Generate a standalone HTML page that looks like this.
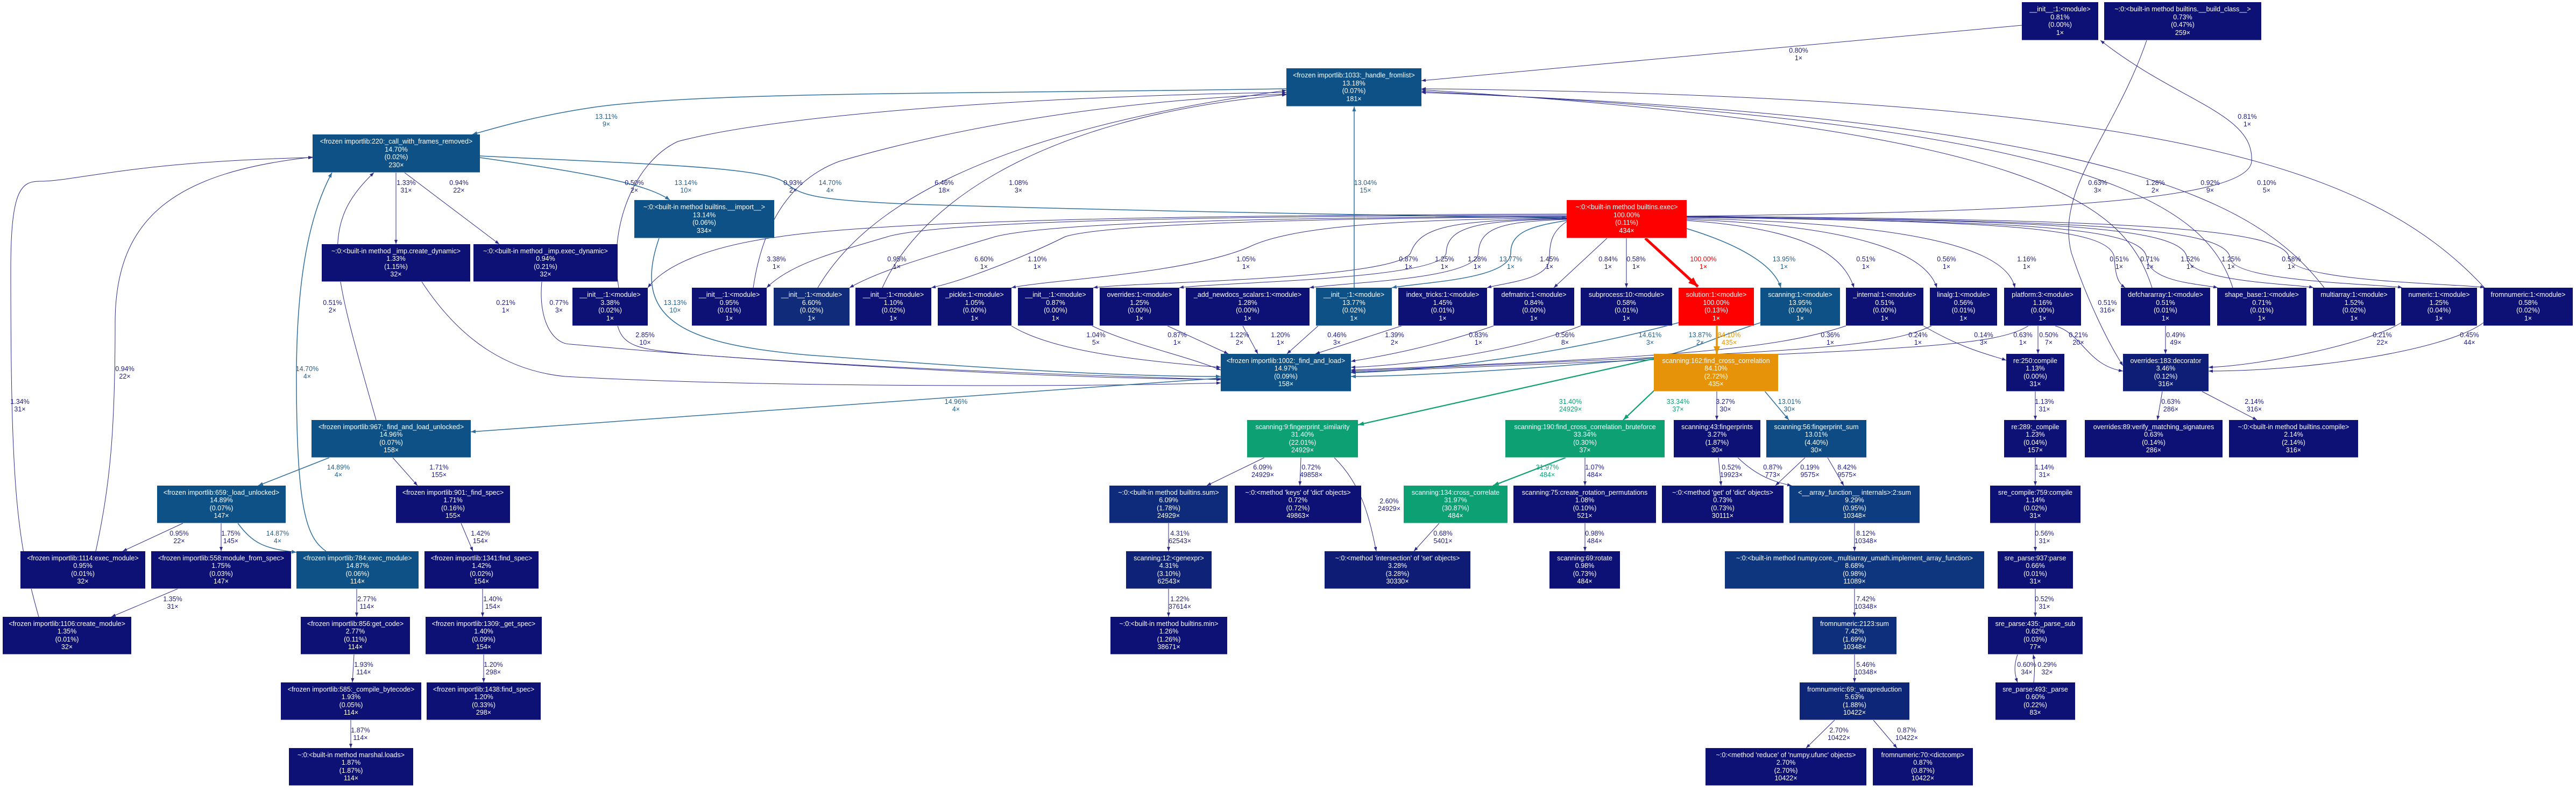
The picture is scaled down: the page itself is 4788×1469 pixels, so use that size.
<!DOCTYPE html>
<html><head><meta charset="utf-8"><style>
html,body{margin:0;padding:0;background:#fff;}
#c{position:relative;width:4788px;height:1469px;overflow:hidden;background:#fff;font-family:"Liberation Sans",sans-serif;}
.n{position:absolute;display:flex;flex-direction:column;justify-content:center;align-items:center;color:#fff;font-size:12.5px;line-height:14.5px;white-space:nowrap;box-sizing:border-box;height:71px;background:#0d1074;border-bottom:1px solid #8a8cc0;}
.b{background:#0e5186;border-bottom-color:#86a8c2;}
.r{background:#ff0000;border-bottom-color:#ff9090;}
.g{background:#0ca072;border-bottom-color:#86d0b8;}
.o{background:#e6930a;border-bottom-color:#f2c984;}
svg{position:absolute;left:0;top:0;}
svg text{font-family:"Liberation Sans",sans-serif;font-size:12.5px;text-anchor:middle;}
.en{fill:none;stroke:#2a2a8c;stroke-width:1;}
.eb{fill:none;stroke:#2f6e9c;stroke-width:1.5;}
.eg{fill:none;stroke:#0ca072;stroke-width:2.2;}
.ln{fill:#1c1c84;} .lb{fill:#235f8d;} .lg{fill:#0ca072;} .lo{fill:#e6930a;} .lr{fill:#ff0000;}
</style></head><body><div id="c">
<svg width="4788" height="1469" viewBox="0 0 4788 1469">
<defs>
<marker id="mn" markerWidth="8" markerHeight="6" refX="8" refY="3" orient="auto" markerUnits="userSpaceOnUse"><path d="M0,0L8,3L0,6z" fill="#2a2a8c"/></marker>
<marker id="mb" markerWidth="9" markerHeight="7" refX="9" refY="3.5" orient="auto" markerUnits="userSpaceOnUse"><path d="M0,0L9,3.5L0,7z" fill="#2f6e9c"/></marker>
<marker id="mg" markerWidth="11" markerHeight="8" refX="11" refY="4" orient="auto" markerUnits="userSpaceOnUse"><path d="M0,0L11,4L0,8z" fill="#0ca072"/></marker>
<marker id="mo" markerWidth="14" markerHeight="12" refX="14" refY="6" orient="auto" markerUnits="userSpaceOnUse"><path d="M0,0L14,6L0,12z" fill="#e6930a"/></marker>
<marker id="mr" markerWidth="18" markerHeight="14" refX="18" refY="7" orient="auto" markerUnits="userSpaceOnUse"><path d="M0,0L18,7L0,14z" fill="#ff0000"/></marker>
</defs>
<g>
<path class="en" marker-end="url(#mn)" d="M3758,47 L2642,150"/>
<path class="en" marker-end="url(#mn)" d="M3135,402 C3700,395 4180,380 4185,300 C4190,210 4050,190 3904,75"/>
<path class="eb" marker-end="url(#mb)" d="M2391,165 C1800,175 1300,170 1100,200 C1000,215 930,235 878,250"/>
<path class="eb" marker-end="url(#mb)" d="M892,290 C1200,305 1420,310 1460,340 C1490,365 1520,372 1700,380 C2200,395 2700,402 2912,405"/>
<path class="eb" marker-end="url(#mb)" d="M892,293 C1080,320 1200,340 1245,372"/>
<path class="en" marker-end="url(#mn)" d="M736,321 L736,454"/>
<path class="en" marker-end="url(#mn)" d="M752,321 L928,454"/>
<path class="en" marker-end="url(#mn)" d="M72,1147 C30,1000 20,900 20,500 C20,350 40,337 75,337 C140,337 250,300 581,293"/>
<path class="en" marker-end="url(#mn)" d="M178,1025 C205,900 214,800 214,600 C214,400 330,320 581,292"/>
<path class="eb" marker-end="url(#mb)" d="M606,1025 C570,1000 551,950 551,700 C551,500 580,390 617,321"/>
<path class="en" marker-end="url(#mn)" d="M699,781 C620,500 590,420 695,321"/>
<path class="en" marker-end="url(#mn)" d="M784,524 C860,640 950,690 1050,700 C1400,720 2000,720 2269,712"/>
<path class="en" marker-end="url(#mn)" d="M1007,524 C1000,600 1030,640 1060,640 C1500,680 2000,705 2269,705"/>
<path class="eb" marker-end="url(#mb)" d="M1225,443 C1170,600 1280,640 1500,660 C1900,690 2100,700 2269,700"/>
<path class="en" marker-end="url(#mn)" d="M1148,606 C1160,650 1200,650 1300,660 C1700,690 2100,700 2269,706"/>
<path class="eb" marker-end="url(#mb)" d="M2269,703 L875,803"/>
<path class="eb" marker-end="url(#mb)" d="M612,851 L480,903"/>
<path class="en" marker-end="url(#mn)" d="M730,851 L776,903"/>
<path class="en" marker-end="url(#mn)" d="M340,973 L228,1025"/>
<path class="en" marker-end="url(#mn)" d="M411,973 L411,1025"/>
<path class="eb" marker-end="url(#mb)" d="M442,973 C470,1010 490,1020 551,1027"/>
<path class="en" marker-end="url(#mn)" d="M857,973 L879,1025"/>
<path class="en" marker-end="url(#mn)" d="M330,1095 L207,1147"/>
<path class="en" marker-end="url(#mn)" d="M663,1095 L663,1147"/>
<path class="en" marker-end="url(#mn)" d="M897,1095 L897,1147"/>
<path class="en" marker-end="url(#mn)" d="M658,1217 L655,1269"/>
<path class="en" marker-end="url(#mn)" d="M899,1217 L899,1269"/>
<path class="en" marker-end="url(#mn)" d="M652,1339 L652,1391"/>
<!-- exec fan-out left -->
<path class="en" marker-end="url(#mn)" d="M2912,398 C2200,400 1650,410 1450,440 C1300,460 1230,500 1204,535"/>
<path class="en" marker-end="url(#mn)" d="M2912,400 C2200,402 1750,412 1650,440 C1550,470 1470,490 1425,535"/>
<path class="en" marker-end="url(#mn)" d="M2912,402 C2300,405 1950,415 1850,440 C1750,470 1640,500 1579,535"/>
<path class="en" marker-end="url(#mn)" d="M2912,403 C2400,406 2050,418 1980,440 C1920,470 1800,520 1731,535"/>
<path class="en" marker-end="url(#mn)" d="M2912,405 C2600,408 2400,420 2320,460 C2200,510 1950,520 1880,535"/>
<path class="en" marker-end="url(#mn)" d="M2912,406 C2700,410 2640,420 2622,470 C2600,520 2100,525 2032,535"/>
<path class="en" marker-end="url(#mn)" d="M2912,407 C2750,410 2690,420 2688,470 C2685,520 2260,525 2192,535"/>
<path class="en" marker-end="url(#mn)" d="M2912,408 C2800,412 2750,420 2748,470 C2745,520 2500,525 2434,535"/>
<path class="eb" marker-end="url(#mb)" d="M2912,410 C2850,420 2808,430 2808,470 C2808,520 2640,525 2587,535"/>
<path class="en" marker-end="url(#mn)" d="M2912,412 C2885,430 2880,450 2880,480 C2880,520 2800,525 2764,535"/>
<path class="en" marker-end="url(#mn)" d="M2987,443 L2888,535"/>
<path class="en" marker-end="url(#mn)" d="M3023,443 L3023,535"/>
<path fill="none" stroke="#ff0000" stroke-width="5" marker-end="url(#mr)" d="M3058,443 L3156,533"/>
<path class="eb" marker-end="url(#mb)" d="M3135,425 C3250,460 3300,500 3310,535"/>
<path class="en" marker-end="url(#mn)" d="M3135,410 C3350,425 3425,470 3446,535"/>
<path class="en" marker-end="url(#mn)" d="M3135,408 C3450,420 3580,470 3600,535"/>
<path class="en" marker-end="url(#mn)" d="M3135,406 C3550,415 3730,460 3745,535"/>
<path class="en" marker-end="url(#mn)" d="M3135,404 C3700,412 3925,420 3930,480 C3932,520 3940,528 3950,535"/>
<path class="en" marker-end="url(#mn)" d="M3135,404 C3750,412 3985,420 3990,480 C3995,525 4090,528 4122,535"/>
<path class="en" marker-end="url(#mn)" d="M3135,403 C3800,410 4060,420 4065,480 C4070,525 4270,528 4300,535"/>
<path class="en" marker-end="url(#mn)" d="M3135,403 C3850,410 4140,420 4145,480 C4150,525 4430,528 4465,535"/>
<path class="en" marker-end="url(#mn)" d="M3135,402 C3900,408 4250,420 4255,480 C4260,525 4590,528 4618,535"/>
<!-- modules -> handle_fromlist -->
<path class="en" marker-end="url(#mn)" d="M1150,535 C1130,420 1180,300 1260,263 C1500,200 2100,175 2391,172"/>
<path class="en" marker-end="url(#mn)" d="M1400,535 C1420,400 1480,330 1560,300 C1800,230 2100,185 2391,175"/>
<path class="en" marker-end="url(#mn)" d="M1520,535 C1600,400 1800,250 2391,168"/>
<path class="en" marker-end="url(#mn)" d="M1640,535 C1700,400 1900,220 2391,176"/>
<path class="eb" marker-end="url(#mb)" d="M2517,535 L2517,198"/>
<path class="en" marker-end="url(#mn)" d="M4000,535 C3950,380 3800,240 2642,167"/>
<path class="en" marker-end="url(#mn)" d="M4150,535 C4100,380 3900,230 2642,170"/>
<path class="en" marker-end="url(#mn)" d="M4320,535 C4200,380 3950,220 2642,172"/>
<path class="en" marker-end="url(#mn)" d="M4618,535 C4400,300 4000,180 2642,165"/>
<!-- modules -> find_and_load -->
<path class="en" marker-end="url(#mn)" d="M1880,606 C1950,650 2100,670 2269,683"/>
<path class="en" marker-end="url(#mn)" d="M2030,606 C2100,640 2200,660 2269,688"/>
<path class="en" marker-end="url(#mn)" d="M2170,606 L2283,658"/>
<path class="en" marker-end="url(#mn)" d="M2310,606 L2338,658"/>
<path class="en" marker-end="url(#mn)" d="M2450,606 L2392,658"/>
<path class="en" marker-end="url(#mn)" d="M2605,606 L2445,658"/>
<path class="en" marker-end="url(#mn)" d="M2776,606 C2650,650 2550,665 2511,672"/>
<path class="en" marker-end="url(#mn)" d="M2938,606 C2800,660 2600,680 2511,683"/>
<path class="eb" marker-end="url(#mb)" d="M3120,600 C2900,660 2650,690 2511,693"/>
<path class="eb" marker-end="url(#mb)" d="M3272,600 C3150,640 3130,660 3050,668 C2800,690 2600,700 2511,700"/>
<path class="en" marker-end="url(#mn)" d="M3431,606 C3300,650 3100,665 2511,688"/>
<path class="en" marker-end="url(#mn)" d="M3590,606 C3500,650 3300,655 2511,690"/>
<path class="en" marker-end="url(#mn)" d="M3770,606 C3700,650 3500,650 2511,692"/>
<path class="en" marker-end="url(#mn)" d="M3575,606 C3650,650 3700,660 3729,670"/>
<path class="en" marker-end="url(#mn)" d="M3788,606 L3788,658"/>
<path class="en" marker-end="url(#mn)" d="M3820,606 C3870,620 3880,680 3946,690"/>
<path class="en" marker-end="url(#mn)" d="M4025,606 L4025,658"/>
<path class="en" marker-end="url(#mn)" d="M4463,600 C4400,640 4200,680 4105,683"/>
<path class="en" marker-end="url(#mn)" d="M4616,600 C4550,650 4300,690 4105,690"/>
<path class="en" marker-end="url(#mn)" d="M3990,75 C3930,250 3820,350 3850,470 C3880,560 3920,640 3946,680"/>
<path fill="none" stroke="#e6930a" stroke-width="3.5" marker-end="url(#mo)" d="M3191,606 L3191,658"/>
<path class="eg" marker-end="url(#mg)" d="M3074,667 L2524,790"/>
<path class="eg" marker-end="url(#mg)" d="M3120,683 L3017,781"/>
<path class="en" marker-end="url(#mn)" d="M3191,683 L3191,781"/>
<path class="eb" marker-end="url(#mb)" d="M3243,683 L3325,781"/>
<path class="en" marker-end="url(#mn)" d="M3783,728 L3783,781"/>
<path class="en" marker-end="url(#mn)" d="M4019,728 L4010,781"/>
<path class="en" marker-end="url(#mn)" d="M4093,728 L4195,781"/>
<path class="en" marker-end="url(#mn)" d="M2350,851 L2243,903"/>
<path class="en" marker-end="url(#mn)" d="M2418,851 L2416,903"/>
<path class="en" marker-end="url(#mn)" d="M2480,851 C2530,900 2545,960 2558,1025"/>
<path class="eg" marker-end="url(#mg)" d="M2910,851 L2775,903"/>
<path class="en" marker-end="url(#mn)" d="M2946,851 L2946,903"/>
<path class="en" marker-end="url(#mn)" d="M3194,851 L3199,903"/>
<path class="en" marker-end="url(#mn)" d="M3230,851 C3260,880 3290,895 3330,903"/>
<path class="en" marker-end="url(#mn)" d="M3355,851 L3300,903"/>
<path class="en" marker-end="url(#mn)" d="M3397,851 L3427,903"/>
<path class="en" marker-end="url(#mn)" d="M3783,851 L3783,903"/>
<path class="en" marker-end="url(#mn)" d="M2675,973 L2628,1025"/>
<path class="en" marker-end="url(#mn)" d="M2946,973 L2946,1025"/>
<path class="en" marker-end="url(#mn)" d="M2172,973 L2172,1025"/>
<path class="en" marker-end="url(#mn)" d="M3447,973 L3447,1025"/>
<path class="en" marker-end="url(#mn)" d="M3783,973 L3783,1025"/>
<path class="en" marker-end="url(#mn)" d="M2172,1095 L2172,1147"/>
<path class="en" marker-end="url(#mn)" d="M3447,1095 L3447,1147"/>
<path class="en" marker-end="url(#mn)" d="M3783,1095 L3783,1147"/>
<path class="en" marker-end="url(#mn)" d="M3447,1217 L3447,1269"/>
<path class="en" marker-end="url(#mn)" d="M3750,1217 C3742,1240 3745,1255 3750,1269"/>
<path class="en" marker-end="url(#mn)" d="M3780,1269 C3782,1250 3782,1230 3779,1217"/>
<path class="en" marker-end="url(#mn)" d="M3410,1339 L3357,1391"/>
<path class="en" marker-end="url(#mn)" d="M3482,1339 L3526,1391"/>
</g>
<g>
<text class="ln" x="3343" y="98">0.80%<tspan x="3343" dy="14">1×</tspan></text>
<text class="ln" x="4177" y="221">0.81%<tspan x="4177" dy="14">1×</tspan></text>
<text class="lb" x="1127" y="221">13.11%<tspan x="1127" dy="14">9×</tspan></text>
<text class="lb" x="1543" y="344">14.70%<tspan x="1543" dy="14">4×</tspan></text>
<text class="lb" x="1275" y="344">13.14%<tspan x="1275" dy="14">10×</tspan></text>
<text class="ln" x="755" y="344">1.33%<tspan x="755" dy="14">31×</tspan></text>
<text class="ln" x="853" y="344">0.94%<tspan x="853" dy="14">22×</tspan></text>
<text class="ln" x="37" y="751">1.34%<tspan x="37" dy="14">31×</tspan></text>
<text class="ln" x="232" y="690">0.94%<tspan x="232" dy="14">22×</tspan></text>
<text class="lb" x="571" y="690">14.70%<tspan x="571" dy="14">4×</tspan></text>
<text class="ln" x="618" y="567">0.51%<tspan x="618" dy="14">2×</tspan></text>
<text class="ln" x="940" y="567">0.21%<tspan x="940" dy="14">1×</tspan></text>
<text class="ln" x="1039" y="567">0.77%<tspan x="1039" dy="14">3×</tspan></text>
<text class="lb" x="1255" y="567">13.13%<tspan x="1255" dy="14">10×</tspan></text>
<text class="ln" x="1199" y="627">2.85%<tspan x="1199" dy="14">10×</tspan></text>
<text class="lb" x="1777" y="751">14.96%<tspan x="1777" dy="14">4×</tspan></text>
<text class="lb" x="629" y="873">14.89%<tspan x="629" dy="14">4×</tspan></text>
<text class="ln" x="816" y="873">1.71%<tspan x="816" dy="14">155×</tspan></text>
<text class="ln" x="333" y="996">0.95%<tspan x="333" dy="14">22×</tspan></text>
<text class="ln" x="429" y="996">1.75%<tspan x="429" dy="14">145×</tspan></text>
<text class="lb" x="516" y="996">14.87%<tspan x="516" dy="14">4×</tspan></text>
<text class="ln" x="893" y="996">1.42%<tspan x="893" dy="14">154×</tspan></text>
<text class="ln" x="321" y="1118">1.35%<tspan x="321" dy="14">31×</tspan></text>
<text class="ln" x="682" y="1118">2.77%<tspan x="682" dy="14">114×</tspan></text>
<text class="ln" x="916" y="1118">1.40%<tspan x="916" dy="14">154×</tspan></text>
<text class="ln" x="676" y="1240">1.93%<tspan x="676" dy="14">114×</tspan></text>
<text class="ln" x="917" y="1240">1.20%<tspan x="917" dy="14">298×</tspan></text>
<text class="ln" x="670" y="1362">1.87%<tspan x="670" dy="14">114×</tspan></text>
<text class="ln" x="1443" y="486">3.38%<tspan x="1443" dy="14">1×</tspan></text>
<text class="ln" x="1667" y="486">0.95%<tspan x="1667" dy="14">1×</tspan></text>
<text class="ln" x="1829" y="486">6.60%<tspan x="1829" dy="14">1×</tspan></text>
<text class="ln" x="1928" y="486">1.10%<tspan x="1928" dy="14">1×</tspan></text>
<text class="ln" x="2316" y="486">1.05%<tspan x="2316" dy="14">1×</tspan></text>
<text class="ln" x="2618" y="486">0.87%<tspan x="2618" dy="14">1×</tspan></text>
<text class="ln" x="2685" y="486">1.25%<tspan x="2685" dy="14">1×</tspan></text>
<text class="ln" x="2746" y="486">1.28%<tspan x="2746" dy="14">1×</tspan></text>
<text class="lb" x="2808" y="486">13.77%<tspan x="2808" dy="14">1×</tspan></text>
<text class="ln" x="2880" y="486">1.45%<tspan x="2880" dy="14">1×</tspan></text>
<text class="ln" x="2989" y="486">0.84%<tspan x="2989" dy="14">1×</tspan></text>
<text class="ln" x="3041" y="486">0.58%<tspan x="3041" dy="14">1×</tspan></text>
<text class="lr" x="3166" y="486">100.00%<tspan x="3166" dy="14">1×</tspan></text>
<text class="lb" x="3316" y="486">13.95%<tspan x="3316" dy="14">1×</tspan></text>
<text class="ln" x="3468" y="486">0.51%<tspan x="3468" dy="14">1×</tspan></text>
<text class="ln" x="3618" y="486">0.56%<tspan x="3618" dy="14">1×</tspan></text>
<text class="ln" x="3767" y="486">1.16%<tspan x="3767" dy="14">1×</tspan></text>
<text class="ln" x="3939" y="486">0.51%<tspan x="3939" dy="14">1×</tspan></text>
<text class="ln" x="3996" y="486">0.71%<tspan x="3996" dy="14">1×</tspan></text>
<text class="ln" x="4071" y="486">1.52%<tspan x="4071" dy="14">1×</tspan></text>
<text class="ln" x="4147" y="486">1.25%<tspan x="4147" dy="14">1×</tspan></text>
<text class="ln" x="4259" y="486">0.58%<tspan x="4259" dy="14">1×</tspan></text>
<text class="ln" x="1179" y="344">0.50%<tspan x="1179" dy="14">2×</tspan></text>
<text class="ln" x="1474" y="344">0.93%<tspan x="1474" dy="14">2×</tspan></text>
<text class="ln" x="1755" y="344">6.46%<tspan x="1755" dy="14">18×</tspan></text>
<text class="ln" x="1893" y="344">1.08%<tspan x="1893" dy="14">3×</tspan></text>
<text class="lb" x="2538" y="344">13.04%<tspan x="2538" dy="14">15×</tspan></text>
<text class="ln" x="3899" y="344">0.63%<tspan x="3899" dy="14">3×</tspan></text>
<text class="ln" x="4006" y="344">1.28%<tspan x="4006" dy="14">2×</tspan></text>
<text class="ln" x="4108" y="344">0.92%<tspan x="4108" dy="14">9×</tspan></text>
<text class="ln" x="4213" y="344">0.10%<tspan x="4213" dy="14">5×</tspan></text>
<text class="ln" x="2037" y="627">1.04%<tspan x="2037" dy="14">5×</tspan></text>
<text class="ln" x="2188" y="627">0.87%<tspan x="2188" dy="14">1×</tspan></text>
<text class="ln" x="2304" y="627">1.22%<tspan x="2304" dy="14">2×</tspan></text>
<text class="ln" x="2380" y="627">1.20%<tspan x="2380" dy="14">1×</tspan></text>
<text class="ln" x="2485" y="627">0.46%<tspan x="2485" dy="14">3×</tspan></text>
<text class="ln" x="2592" y="627">1.39%<tspan x="2592" dy="14">2×</tspan></text>
<text class="ln" x="2748" y="627">0.83%<tspan x="2748" dy="14">1×</tspan></text>
<text class="ln" x="2909" y="627">0.56%<tspan x="2909" dy="14">8×</tspan></text>
<text class="lb" x="3067" y="627">14.61%<tspan x="3067" dy="14">3×</tspan></text>
<text class="lb" x="3160" y="627">13.87%<tspan x="3160" dy="14">2×</tspan></text>
<text class="lo" x="3214" y="627">84.10%<tspan x="3214" dy="14">435×</tspan></text>
<text class="ln" x="3402" y="627">0.36%<tspan x="3402" dy="14">1×</tspan></text>
<text class="ln" x="3565" y="627">0.24%<tspan x="3565" dy="14">1×</tspan></text>
<text class="ln" x="3687" y="627">0.14%<tspan x="3687" dy="14">3×</tspan></text>
<text class="ln" x="3760" y="627">0.63%<tspan x="3760" dy="14">1×</tspan></text>
<text class="ln" x="3808" y="627">0.50%<tspan x="3808" dy="14">7×</tspan></text>
<text class="ln" x="3863" y="627">0.21%<tspan x="3863" dy="14">20×</tspan></text>
<text class="ln" x="4044" y="627">0.49%<tspan x="4044" dy="14">49×</tspan></text>
<text class="ln" x="4428" y="627">0.21%<tspan x="4428" dy="14">22×</tspan></text>
<text class="ln" x="4590" y="627">0.45%<tspan x="4590" dy="14">44×</tspan></text>
<text class="ln" x="3917" y="567">0.51%<tspan x="3917" dy="14">316×</tspan></text>
<text class="lg" x="2919" y="751">31.40%<tspan x="2919" dy="14">24929×</tspan></text>
<text class="lg" x="3119" y="751">33.34%<tspan x="3119" dy="14">37×</tspan></text>
<text class="ln" x="3207" y="751">3.27%<tspan x="3207" dy="14">30×</tspan></text>
<text class="lb" x="3326" y="751">13.01%<tspan x="3326" dy="14">30×</tspan></text>
<text class="ln" x="3800" y="751">1.13%<tspan x="3800" dy="14">31×</tspan></text>
<text class="ln" x="4035" y="751">0.63%<tspan x="4035" dy="14">286×</tspan></text>
<text class="ln" x="4190" y="751">2.14%<tspan x="4190" dy="14">316×</tspan></text>
<text class="ln" x="2347" y="873">6.09%<tspan x="2347" dy="14">24929×</tspan></text>
<text class="ln" x="2437" y="873">0.72%<tspan x="2437" dy="14">49858×</tspan></text>
<text class="ln" x="2582" y="936">2.60%<tspan x="2582" dy="14">24929×</tspan></text>
<text class="lg" x="2876" y="873">31.97%<tspan x="2876" dy="14">484×</tspan></text>
<text class="ln" x="2964" y="873">1.07%<tspan x="2964" dy="14">484×</tspan></text>
<text class="ln" x="3218" y="873">0.52%<tspan x="3218" dy="14">19923×</tspan></text>
<text class="ln" x="3295" y="873">0.87%<tspan x="3295" dy="14">773×</tspan></text>
<text class="ln" x="3364" y="873">0.19%<tspan x="3364" dy="14">9575×</tspan></text>
<text class="ln" x="3433" y="873">8.42%<tspan x="3433" dy="14">9575×</tspan></text>
<text class="ln" x="3800" y="873">1.14%<tspan x="3800" dy="14">31×</tspan></text>
<text class="ln" x="2682" y="996">0.68%<tspan x="2682" dy="14">5401×</tspan></text>
<text class="ln" x="2964" y="996">0.98%<tspan x="2964" dy="14">484×</tspan></text>
<text class="ln" x="2193" y="996">4.31%<tspan x="2193" dy="14">62543×</tspan></text>
<text class="ln" x="3468" y="996">8.12%<tspan x="3468" dy="14">10348×</tspan></text>
<text class="ln" x="3800" y="996">0.56%<tspan x="3800" dy="14">31×</tspan></text>
<text class="ln" x="2193" y="1118">1.22%<tspan x="2193" dy="14">37614×</tspan></text>
<text class="ln" x="3468" y="1118">7.42%<tspan x="3468" dy="14">10348×</tspan></text>
<text class="ln" x="3800" y="1118">0.52%<tspan x="3800" dy="14">31×</tspan></text>
<text class="ln" x="3468" y="1240">5.46%<tspan x="3468" dy="14">10348×</tspan></text>
<text class="ln" x="3767" y="1240">0.60%<tspan x="3767" dy="14">34×</tspan></text>
<text class="ln" x="3805" y="1240">0.29%<tspan x="3805" dy="14">32×</tspan></text>
<text class="ln" x="3418" y="1362">2.70%<tspan x="3418" dy="14">10422×</tspan></text>
<text class="ln" x="3544" y="1362">0.87%<tspan x="3544" dy="14">10422×</tspan></text>
</g>
</svg>

<div class="n" style="left:3758px;top:4px;width:142px">__init__:1:&lt;module&gt;<span>0.81%</span><span>(0.00%)</span><span>1×</span></div>
<div class="n" style="left:3911px;top:4px;width:292px">~:0:&lt;built-in method builtins.__build_class__&gt;<span>0.73%</span><span>(0.47%)</span><span>259×</span></div>
<div class="n b" style="left:2391px;top:127px;width:251px">&lt;frozen importlib:1033:_handle_fromlist&gt;<span>13.18%</span><span>(0.07%)</span><span>181×</span></div>
<div class="n b" style="left:581px;top:250px;width:311px">&lt;frozen importlib:220:_call_with_frames_removed&gt;<span>14.70%</span><span>(0.02%)</span><span>230×</span></div>
<div class="n b" style="left:1179px;top:372px;width:260px">~:0:&lt;built-in method builtins.__import__&gt;<span>13.14%</span><span>(0.06%)</span><span>334×</span></div>
<div class="n r" style="left:2912px;top:372px;width:223px">~:0:&lt;built-in method builtins.exec&gt;<span>100.00%</span><span>(0.11%)</span><span>434×</span></div>
<div class="n" style="left:598px;top:454px;width:276px;height:70px">~:0:&lt;built-in method _imp.create_dynamic&gt;<span>1.33%</span><span>(1.15%)</span><span>32×</span></div>
<div class="n" style="left:880px;top:454px;width:268px;height:70px">~:0:&lt;built-in method _imp.exec_dynamic&gt;<span>0.94%</span><span>(0.21%)</span><span>32×</span></div>

<div class="n" style="left:1064px;top:535px;width:140px">__init__:1:&lt;module&gt;<span>3.38%</span><span>(0.02%)</span><span>1×</span></div>
<div class="n" style="left:1286px;top:535px;width:139px">__init__:1:&lt;module&gt;<span>0.95%</span><span>(0.01%)</span><span>1×</span></div>
<div class="n" style="left:1438px;top:535px;width:141px;background:#0f2b79">__init__:1:&lt;module&gt;<span>6.60%</span><span>(0.02%)</span><span>1×</span></div>
<div class="n" style="left:1590px;top:535px;width:141px">__init__:1:&lt;module&gt;<span>1.10%</span><span>(0.02%)</span><span>1×</span></div>
<div class="n" style="left:1743px;top:535px;width:137px">_pickle:1:&lt;module&gt;<span>1.05%</span><span>(0.00%)</span><span>1×</span></div>
<div class="n" style="left:1892px;top:535px;width:140px">__init__:1:&lt;module&gt;<span>0.87%</span><span>(0.00%)</span><span>1×</span></div>
<div class="n" style="left:2044px;top:535px;width:148px">overrides:1:&lt;module&gt;<span>1.25%</span><span>(0.00%)</span><span>1×</span></div>
<div class="n" style="left:2204px;top:535px;width:230px">_add_newdocs_scalars:1:&lt;module&gt;<span>1.28%</span><span>(0.00%)</span><span>1×</span></div>
<div class="n b" style="left:2446px;top:535px;width:141px">__init__:1:&lt;module&gt;<span>13.77%</span><span>(0.02%)</span><span>1×</span></div>
<div class="n" style="left:2599px;top:535px;width:165px">index_tricks:1:&lt;module&gt;<span>1.45%</span><span>(0.01%)</span><span>1×</span></div>
<div class="n" style="left:2776px;top:535px;width:150px">defmatrix:1:&lt;module&gt;<span>0.84%</span><span>(0.00%)</span><span>1×</span></div>
<div class="n" style="left:2938px;top:535px;width:170px">subprocess:10:&lt;module&gt;<span>0.58%</span><span>(0.01%)</span><span>1×</span></div>
<div class="n r" style="left:3120px;top:535px;width:140px">solution:1:&lt;module&gt;<span>100.00%</span><span>(0.13%)</span><span>1×</span></div>
<div class="n b" style="left:3272px;top:535px;width:148px">scanning:1:&lt;module&gt;<span>13.95%</span><span>(0.00%)</span><span>1×</span></div>
<div class="n" style="left:3431px;top:535px;width:144px">_internal:1:&lt;module&gt;<span>0.51%</span><span>(0.00%)</span><span>1×</span></div>
<div class="n" style="left:3587px;top:535px;width:125px">linalg:1:&lt;module&gt;<span>0.56%</span><span>(0.01%)</span><span>1×</span></div>
<div class="n" style="left:3725px;top:535px;width:143px">platform:3:&lt;module&gt;<span>1.16%</span><span>(0.00%)</span><span>1×</span></div>
<div class="n" style="left:3942px;top:535px;width:166px">defchararray:1:&lt;module&gt;<span>0.51%</span><span>(0.01%)</span><span>1×</span></div>
<div class="n" style="left:4121px;top:535px;width:166px">shape_base:1:&lt;module&gt;<span>0.71%</span><span>(0.01%)</span><span>1×</span></div>
<div class="n" style="left:4299px;top:535px;width:153px">multiarray:1:&lt;module&gt;<span>1.52%</span><span>(0.02%)</span><span>1×</span></div>
<div class="n" style="left:4463px;top:535px;width:141px">numeric:1:&lt;module&gt;<span>1.25%</span><span>(0.04%)</span><span>1×</span></div>
<div class="n" style="left:4616px;top:535px;width:166px">fromnumeric:1:&lt;module&gt;<span>0.58%</span><span>(0.02%)</span><span>1×</span></div>

<div class="n b" style="left:2269px;top:658px;width:242px;height:70px">&lt;frozen importlib:1002:_find_and_load&gt;<span>14.97%</span><span>(0.09%)</span><span>158×</span></div>
<div class="n o" style="left:3074px;top:658px;width:231px;height:70px">scanning:162:find_cross_correlation<span>84.10%</span><span>(2.72%)</span><span>435×</span></div>
<div class="n" style="left:3729px;top:658px;width:108px;height:70px">re:250:compile<span>1.13%</span><span>(0.00%)</span><span>31×</span></div>
<div class="n" style="left:3946px;top:658px;width:159px;height:70px;background:#0e1d76">overrides:183:decorator<span>3.46%</span><span>(0.12%)</span><span>316×</span></div>

<div class="n b" style="left:579px;top:781px;width:296px;height:70px">&lt;frozen importlib:967:_find_and_load_unlocked&gt;<span>14.96%</span><span>(0.07%)</span><span>158×</span></div>
<div class="n g" style="left:2318px;top:781px;width:206px;height:70px">scanning:9:fingerprint_similarity<span>31.40%</span><span>(22.01%)</span><span>24929×</span></div>
<div class="n g" style="left:2798px;top:781px;width:296px;height:70px">scanning:190:find_cross_correlation_bruteforce<span>33.34%</span><span>(0.30%)</span><span>37×</span></div>
<div class="n" style="left:3111px;top:781px;width:161px;height:70px">scanning:43:fingerprints<span>3.27%</span><span>(1.87%)</span><span>30×</span></div>
<div class="n" style="left:3283px;top:781px;width:186px;height:70px;background:#0e4a83">scanning:56:fingerprint_sum<span>13.01%</span><span>(4.40%)</span><span>30×</span></div>
<div class="n" style="left:3725px;top:781px;width:116px;height:70px">re:289:_compile<span>1.23%</span><span>(0.04%)</span><span>157×</span></div>
<div class="n" style="left:3875px;top:781px;width:256px;height:70px">overrides:89:verify_matching_signatures<span>0.63%</span><span>(0.14%)</span><span>286×</span></div>
<div class="n" style="left:4143px;top:781px;width:240px;height:70px">~:0:&lt;built-in method builtins.compile&gt;<span>2.14%</span><span>(2.14%)</span><span>316×</span></div>

<div class="n b" style="left:292px;top:903px;width:239px;height:70px">&lt;frozen importlib:659:_load_unlocked&gt;<span>14.89%</span><span>(0.07%)</span><span>147×</span></div>
<div class="n" style="left:736px;top:903px;width:212px;height:70px">&lt;frozen importlib:901:_find_spec&gt;<span>1.71%</span><span>(0.16%)</span><span>155×</span></div>
<div class="n" style="left:2062px;top:903px;width:220px;height:70px;background:#0e2a7a">~:0:&lt;built-in method builtins.sum&gt;<span>6.09%</span><span>(1.78%)</span><span>24929×</span></div>
<div class="n" style="left:2295px;top:903px;width:235px;height:70px">~:0:&lt;method 'keys' of 'dict' objects&gt;<span>0.72%</span><span>(0.72%)</span><span>49863×</span></div>
<div class="n g" style="left:2609px;top:903px;width:193px;height:70px">scanning:134:cross_correlate<span>31.97%</span><span>(30.87%)</span><span>484×</span></div>
<div class="n" style="left:2813px;top:903px;width:265px;height:70px">scanning:75:create_rotation_permutations<span>1.08%</span><span>(0.10%)</span><span>521×</span></div>
<div class="n" style="left:3089px;top:903px;width:226px;height:70px">~:0:&lt;method 'get' of 'dict' objects&gt;<span>0.73%</span><span>(0.73%)</span><span>30111×</span></div>
<div class="n" style="left:3326px;top:903px;width:242px;height:70px;background:#0e3c80">&lt;__array_function__ internals&gt;:2:sum<span>9.29%</span><span>(0.95%)</span><span>10348×</span></div>
<div class="n" style="left:3699px;top:903px;width:168px;height:70px">sre_compile:759:compile<span>1.14%</span><span>(0.02%)</span><span>31×</span></div>

<div class="n" style="left:38px;top:1025px;width:232px;height:70px">&lt;frozen importlib:1114:exec_module&gt;<span>0.95%</span><span>(0.01%)</span><span>32×</span></div>
<div class="n" style="left:281px;top:1025px;width:260px;height:70px">&lt;frozen importlib:558:module_from_spec&gt;<span>1.75%</span><span>(0.03%)</span><span>147×</span></div>
<div class="n b" style="left:551px;top:1025px;width:227px;height:70px">&lt;frozen importlib:784:exec_module&gt;<span>14.87%</span><span>(0.06%)</span><span>114×</span></div>
<div class="n" style="left:789px;top:1025px;width:212px;height:70px">&lt;frozen importlib:1341:find_spec&gt;<span>1.42%</span><span>(0.02%)</span><span>154×</span></div>
<div class="n" style="left:2093px;top:1025px;width:159px;height:70px;background:#0e2277">scanning:12:&lt;genexpr&gt;<span>4.31%</span><span>(3.10%)</span><span>62543×</span></div>
<div class="n" style="left:2462px;top:1025px;width:271px;height:70px;background:#0e1c76">~:0:&lt;method 'intersection' of 'set' objects&gt;<span>3.28%</span><span>(3.28%)</span><span>30330×</span></div>
<div class="n" style="left:2880px;top:1025px;width:131px;height:70px">scanning:69:rotate<span>0.98%</span><span>(0.73%)</span><span>484×</span></div>
<div class="n" style="left:3206px;top:1025px;width:482px;height:70px;background:#0e367e">~:0:&lt;built-in method numpy.core._multiarray_umath.implement_array_function&gt;<span>8.68%</span><span>(0.98%)</span><span>11089×</span></div>
<div class="n" style="left:3713px;top:1025px;width:140px;height:70px">sre_parse:937:parse<span>0.66%</span><span>(0.01%)</span><span>31×</span></div>

<div class="n" style="left:5px;top:1147px;width:239px;height:70px">&lt;frozen importlib:1106:create_module&gt;<span>1.35%</span><span>(0.01%)</span><span>32×</span></div>
<div class="n" style="left:559px;top:1147px;width:203px;height:70px">&lt;frozen importlib:856:get_code&gt;<span>2.77%</span><span>(0.11%)</span><span>114×</span></div>
<div class="n" style="left:791px;top:1147px;width:216px;height:70px">&lt;frozen importlib:1309:_get_spec&gt;<span>1.40%</span><span>(0.09%)</span><span>154×</span></div>
<div class="n" style="left:2064px;top:1147px;width:217px;height:70px">~:0:&lt;built-in method builtins.min&gt;<span>1.26%</span><span>(1.26%)</span><span>38671×</span></div>
<div class="n" style="left:3369px;top:1147px;width:156px;height:70px;background:#0e307c">fromnumeric:2123:sum<span>7.42%</span><span>(1.69%)</span><span>10348×</span></div>
<div class="n" style="left:3695px;top:1147px;width:176px;height:70px">sre_parse:435:_parse_sub<span>0.62%</span><span>(0.03%)</span><span>77×</span></div>

<div class="n" style="left:522px;top:1269px;width:261px;height:70px">&lt;frozen importlib:585:_compile_bytecode&gt;<span>1.93%</span><span>(0.05%)</span><span>114×</span></div>
<div class="n" style="left:793px;top:1269px;width:212px;height:70px">&lt;frozen importlib:1438:find_spec&gt;<span>1.20%</span><span>(0.33%)</span><span>298×</span></div>
<div class="n" style="left:3345px;top:1269px;width:204px;height:70px;background:#0e2678">fromnumeric:69:_wrapreduction<span>5.63%</span><span>(1.88%)</span><span>10422×</span></div>
<div class="n" style="left:3709px;top:1269px;width:148px;height:70px">sre_parse:493:_parse<span>0.60%</span><span>(0.22%)</span><span>83×</span></div>

<div class="n" style="left:537px;top:1391px;width:231px;height:70px">~:0:&lt;built-in method marshal.loads&gt;<span>1.87%</span><span>(1.87%)</span><span>114×</span></div>
<div class="n" style="left:3170px;top:1391px;width:299px;height:70px">~:0:&lt;method 'reduce' of 'numpy.ufunc' objects&gt;<span>2.70%</span><span>(2.70%)</span><span>10422×</span></div>
<div class="n" style="left:3481px;top:1391px;width:186px;height:70px">fromnumeric:70:&lt;dictcomp&gt;<span>0.87%</span><span>(0.87%)</span><span>10422×</span></div>
</div></body></html>
